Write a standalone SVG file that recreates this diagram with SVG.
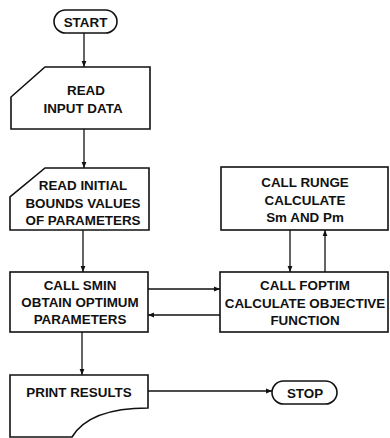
<svg xmlns="http://www.w3.org/2000/svg" width="390" height="438" viewBox="0 0 390 438">
<defs>
<style>
.s{fill:#fff;stroke:#111;stroke-width:1.6}
.l{fill:none;stroke:#111;stroke-width:1.3}
text{font-family:"Liberation Sans",Arial,sans-serif;font-weight:bold;font-size:13.4px;fill:#111;text-anchor:middle}
</style>
<marker id="a" viewBox="0 0 10 10" refX="10" refY="5" markerWidth="6" markerHeight="6" orient="auto" markerUnits="userSpaceOnUse">
<path d="M0,1 L10,5 L0,9 z" fill="#111"/>
</marker>
</defs>
<rect width="390" height="438" fill="#fff"/>
<g id="connectors">
<line class="l" x1="84" y1="33" x2="84" y2="67" marker-end="url(#a)"/>
<line class="l" x1="84" y1="129" x2="84" y2="168" marker-end="url(#a)"/>
<line class="l" x1="83" y1="230" x2="83" y2="272" marker-end="url(#a)"/>
<line class="l" x1="82" y1="332" x2="82" y2="375" marker-end="url(#a)"/>
<line class="l" x1="148" y1="289" x2="220" y2="289" marker-end="url(#a)"/>
<line class="l" x1="220" y1="315" x2="148" y2="315" marker-end="url(#a)"/>
<line class="l" x1="290" y1="230" x2="290" y2="272" marker-end="url(#a)"/>
<line class="l" x1="325" y1="272" x2="325" y2="230" marker-end="url(#a)"/>
<line class="l" x1="148" y1="391" x2="272" y2="391" marker-end="url(#a)"/>
</g>
<g id="start">
<rect class="s" x="54" y="10" width="63" height="23" rx="11.5"/>
<text x="85.5" y="26.5">START</text>
</g>
<g id="read-input">
<path class="s" d="M45,67 H150 V129 H11 V97 Z"/>
<text x="86" y="95">READ</text>
<text x="83" y="113">INPUT DATA</text>
</g>
<g id="read-bounds">
<path class="s" d="M45,168 H149 V230 H10 V197 Z"/>
<text x="83" y="190">READ INITIAL</text>
<text x="83" y="207.5">BOUNDS VALUES</text>
<text x="83" y="225">OF PARAMETERS</text>
</g>
<g id="smin">
<rect class="s" x="10" y="272" width="138" height="60"/>
<text x="80" y="290">CALL SMIN</text>
<text x="80" y="307">OBTAIN OPTIMUM</text>
<text x="80" y="324">PARAMETERS</text>
</g>
<g id="runge">
<rect class="s" x="221" y="167" width="167" height="63"/>
<text x="305" y="187">CALL RUNGE</text>
<text x="305" y="205">CALCULATE</text>
<text x="305" y="222">Sm AND Pm</text>
</g>
<g id="foptim">
<rect class="s" x="220" y="272" width="168" height="60"/>
<text x="305" y="290">CALL FOPTIM</text>
<text x="305" y="308">CALCULATE OBJECTIVE</text>
<text x="305" y="325">FUNCTION</text>
</g>
<g id="print">
<path class="s" d="M148,375 V408 C118,408 86,414 72,437 H10 V375 Z"/>
<text x="79" y="396.5">PRINT RESULTS</text>
</g>
<g id="stop">
<rect class="s" x="272" y="381" width="65" height="23" rx="11.5"/>
<text x="305" y="397.5">STOP</text>
</g>
</svg>
